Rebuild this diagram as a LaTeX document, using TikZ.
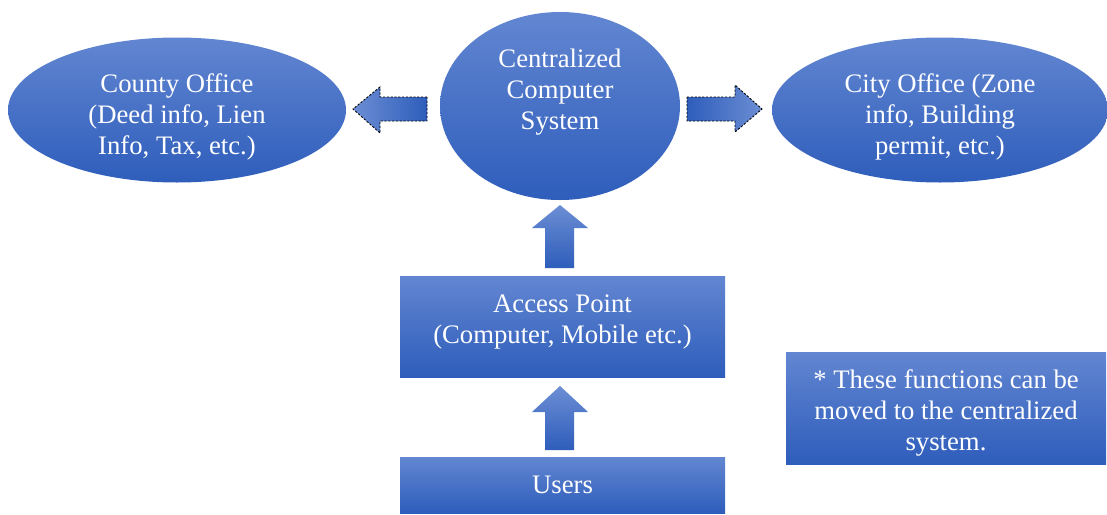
\documentclass[tikz,border=0pt]{standalone}
\usepackage{fontspec}
\setmainfont{Liberation Serif}
\usetikzlibrary{shapes.geometric}
\definecolor{blueTop}{RGB}{98,134,209}
\definecolor{blueBot}{RGB}{46,93,187}
\definecolor{blueTip}{RGB}{108,142,212}
\tikzset{
  blob/.style={ellipse, inner sep=0pt,
    top color=blueTop, bottom color=blueBot},
  panel/.style={rectangle, inner sep=0pt,
    top color=blueTop, bottom color=blueBot},
  txt/.style={text=white, align=center, inner sep=0pt,
    font=\fontsize{26.7}{31}\selectfont},
  dashedge/.style={draw=black, line width=0.9pt, dash pattern=on 2.2pt off 1.6pt},
}
\begin{document}
\begin{tikzpicture}[x=1pt,y=-1pt]
  \useasboundingbox (0,0) rectangle (1107,514);

  % offices and central system
  \node[blob, minimum width=338pt, minimum height=145pt] (county) at (177,110) {};
  \node[blob, minimum width=240pt, minimum height=188pt] (central) at (560,106) {};
  \node[blob, minimum width=336pt, minimum height=145pt] (city) at (940,110) {};

  % boxes
  \node[panel, minimum width=325pt, minimum height=101pt] (access) at (562.5,326.5) {};
  \node[panel, minimum width=325pt, minimum height=56pt] (users) at (562.5,485) {};
  \node[panel, minimum width=320pt, minimum height=112pt] (note) at (946,408) {};

  % labels
  \node[txt] (countyText) at ([yshift=-7pt]county.center)
    {County Office\\(Deed info, Lien\\Info, Tax, etc.)};
  \node[txt] (centralText) at ([yshift=14pt]central.center)
    {Centralized\\Computer\\System};
  \node[txt] (cityText) at ([yshift=-7pt]city.center)
    {City Office (Zone\\info, Building\\permit, etc.)};
  \node[txt] (accessText) at ([yshift=5pt]access.center)
    {Access Point\\(Computer, Mobile etc.)};
  \node[txt] (usersText) at (users.center) {Users};
  \node[txt] (noteText) at ([yshift=-5pt]note.center)
    {* These functions can be\\moved to the centralized\\system.};

  % block arrows from the central system to the offices
  \shade[left color=blueTip, right color=blueBot, dashedge]
    (427,97) -- (380,97) -- (380,87) -- (353,109) -- (380,133) -- (380,121)
    -- (427,121) -- cycle;
  \shade[left color=blueBot, right color=blueTip, dashedge]
    (687,97) -- (735,97) -- (735,85) -- (762,109) -- (735,132) -- (735,121)
    -- (687,121) -- cycle;

  % block arrows up the chain
  \shade[top color=blueTip, bottom color=blueBot]
    (545,268) -- (545,228) -- (532,228) -- (560,205) -- (588,228) -- (574,228)
    -- (574,268) -- cycle;
  \shade[top color=blueTip, bottom color=blueBot]
    (545,450) -- (545,412) -- (532,412) -- (560,386) -- (588,412) -- (574,412)
    -- (574,450) -- cycle;
\end{tikzpicture}
\end{document}
